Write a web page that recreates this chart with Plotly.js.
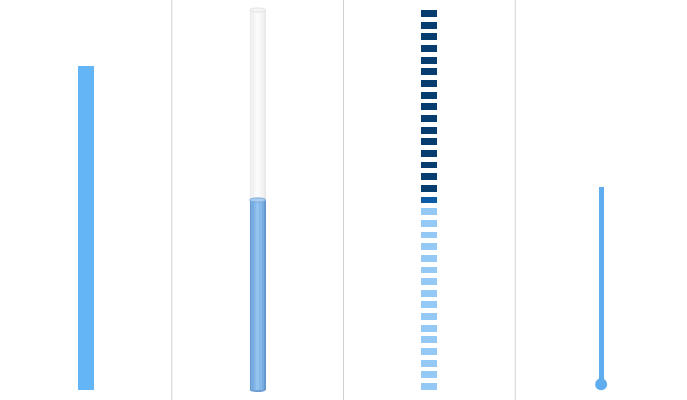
<!DOCTYPE html>
<html>
<head>
<meta charset="utf-8">
<script src="https://cdn.plot.ly/plotly-3.0.1.min.js"></script>
<style>html,body{margin:0;padding:0;background:#fff;}#chart{width:687px;height:400px;}</style>
</head>
<body>
<div id="chart"></div>
<script>
// ---- data ----
var gaugeNames = ["Bar", "Tank", "LED", "Thermometer"];
var scaleMin = 0, scaleMax = 100;
var barValue = 85.3;
var tankValue = 50;
var ledValue = 50;
var ledCount = 33;
var thermoValue = 53.5;
var thermoBulb = 1.5;

// ---- styles ----
var barColor = "#64b5f6";
var ledDark = "#053d6e", ledMid = "#0c5ba6", ledLight = "#94c9f6";
var thermoColor = "#5fadee";
var half = 85.875;

var traces = [];
// Panel 1: bar
traces.push({type:"bar", x:[0], y:[barValue - scaleMin], base:[scaleMin], width:16,
  marker:{color:barColor, line:{width:0}}, xaxis:"x", yaxis:"y", hoverinfo:"skip"});

// Panel 2: tank (layered bars for shading)
var bgLayers = [[16,"#eaeaea"],[13,"#f1f1f1"],[8,"#f7f7f7"],[3,"#fbfbfb"]];
bgLayers.forEach(function(l){
  traces.push({type:"bar", x:[0], y:[scaleMax - scaleMin], base:[scaleMin], width:l[0],
    marker:{color:l[1], line:{width:0}}, xaxis:"x2", yaxis:"y", hoverinfo:"skip"});
});
var fillLayers = [[16,"#6599d0"],[13,"#78abe0"],[8,"#86b8e9"],[3,"#94c3ef"]];
fillLayers.forEach(function(l){
  traces.push({type:"bar", x:[0], y:[tankValue - scaleMin], base:[scaleMin], width:l[0],
    marker:{color:l[1], line:{width:0}}, xaxis:"x2", yaxis:"y", hoverinfo:"skip"});
});

// Panel 3: LED segments
var range = scaleMax - scaleMin;
var segH = range * 0.6 / ledCount;
var step = (range - segH) / (ledCount - 1);
var ledBase = [], ledH = [], ledColors = [], ledX = [];
for (var i = 0; i < ledCount; i++) {
  var lo = scaleMin + i * step;
  var hi = lo + step;
  ledX.push(0);
  ledBase.push(lo);
  ledH.push(segH);
  ledColors.push(hi <= ledValue ? ledLight : (lo < ledValue ? ledMid : ledDark));
}
traces.push({type:"bar", x:ledX, y:ledH, base:ledBase, width:16,
  marker:{color:ledColors, line:{width:0}}, xaxis:"x3", yaxis:"y", hoverinfo:"skip"});

// Panel 4: thermometer
traces.push({type:"bar", x:[0], y:[thermoValue - thermoBulb], base:[thermoBulb], width:5,
  marker:{color:thermoColor, line:{width:0}}, xaxis:"x4", yaxis:"y", hoverinfo:"skip"});
traces.push({type:"scatter", mode:"markers", x:[0], y:[thermoBulb],
  marker:{color:thermoColor, size:12, line:{width:0}}, xaxis:"x4", yaxis:"y", hoverinfo:"skip"});

function ax(d){
  return {domain:d, range:[-half, half], visible:false, fixedrange:true};
}
var ellH = 0.55;
var shapes = [
  {type:"circle", xref:"x2", yref:"y", x0:-8, x1:8, y0:scaleMax-ellH, y1:scaleMax+ellH,
   fillcolor:"#f4f4f4", line:{color:"#e2e2e2", width:1}, layer:"above"},
  {type:"circle", xref:"x2", yref:"y", x0:-8, x1:8, y0:scaleMin-ellH, y1:scaleMin+ellH,
   fillcolor:"#6f9fd2", line:{width:0}, layer:"below"},
  {type:"circle", xref:"x2", yref:"y", x0:-8, x1:8, y0:tankValue-ellH, y1:tankValue+ellH,
   fillcolor:"#a8cdf0", line:{color:"#7aaadb", width:1}, layer:"above"}
];
[0.25, 0.5, 0.75].forEach(function(p){
  shapes.push({type:"line", xref:"paper", yref:"paper", x0:p, x1:p, y0:0, y1:1,
    line:{color:"#d2d2d2", width:1}});
});

var layout = {
  width:687, height:400, margin:{l:0, r:0, t:0, b:0},
  paper_bgcolor:"#ffffff", plot_bgcolor:"rgba(0,0,0,0)",
  showlegend:false, barmode:"overlay", bargap:0,
  xaxis:ax([0,0.25]), xaxis2:ax([0.25,0.5]), xaxis3:ax([0.5,0.75]), xaxis4:ax([0.75,1]),
  yaxis:{range:[-2.632, 102.632], visible:false, fixedrange:true},
  shapes:shapes
};
Plotly.newPlot("chart", traces, layout, {displayModeBar:false, staticPlot:true});
</script>
</body>
</html>
